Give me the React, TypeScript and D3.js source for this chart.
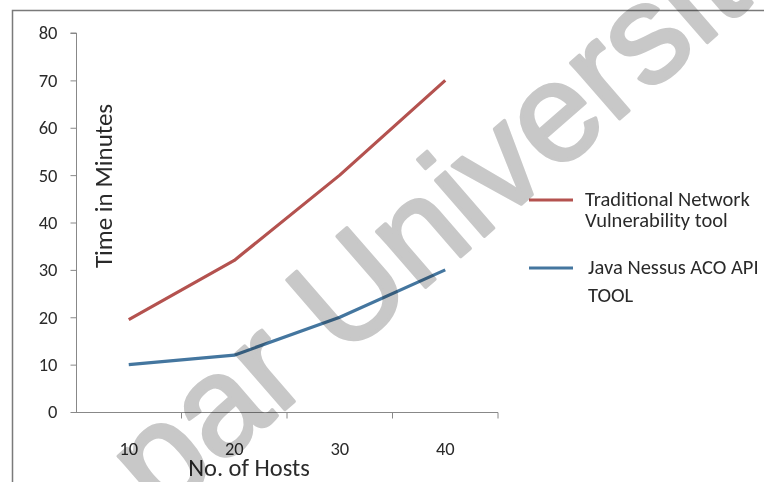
import { useRef, useEffect } from "react"
import * as d3 from "d3"

const hosts = ["10", "20", "30", "40"]
const traditional = [19.5, 32, 50, 70]
const javaNessus = [10, 12, 20, 30]
const yTicks = [0, 10, 20, 30, 40, 50, 60, 70, 80]

const seriesNames = [
  ["Traditional Network", "Vulnerability tool"],
  ["Java Nessus ACO API", "TOOL"],
]
const seriesColors = ["#b4524f", "#44769f"]

const font = "Carlito, Lato, 'Open Sans', sans-serif"
const textColor = "#2a2a2a"

const App = () => {
  const svgRef = useRef<SVGSVGElement>(null)

  useEffect(() => {
    const root = d3.select(svgRef.current)
    root.selectAll("*").remove()

    // frame
    root
      .append("rect")
      .attr("x", 12.5)
      .attr("y", 10.5)
      .attr("width", 800)
      .attr("height", 600)
      .attr("fill", "white")
      .attr("stroke", "#7a7a7a")
      .attr("stroke-width", 1.5)

    const x = d3.scaleBand().domain(hosts).range([76, 498])
    const y = d3.scaleLinear().domain([0, 80]).range([412, 33])

    // y axis
    const yAxis = root
      .append("g")
      .attr("transform", "translate(76.5,0)")
      .call(d3.axisLeft(y).tickValues(yTicks).tickSize(6).tickPadding(13))
    yAxis.select(".domain").attr("stroke", "#888").attr("d", `M-6,${y(80)}H0V${y(0)}`)
    yAxis.selectAll(".tick line").attr("stroke", "#888")
    yAxis
      .selectAll("text")
      .attr("fill", textColor)
      .style("font-family", font)
      .style("font-size", "18.5px")

    // x axis
    const xAxis = root
      .append("g")
      .attr("transform", "translate(0,412.5)")
      .call(d3.axisBottom(x).tickSize(0).tickPadding(29))
    xAxis.select(".domain").attr("stroke", "#888").attr("d", `M${x.range()[0]},0H${x.range()[1]}`)
    xAxis
      .selectAll("text")
      .attr("fill", textColor)
      .style("font-family", font)
      .style("font-size", "18.5px")
    // tick marks between categories
    xAxis
      .selectAll(".sep")
      .data(hosts)
      .enter()
      .append("line")
      .attr("x1", (d) => (x(d) ?? 0) + x.bandwidth())
      .attr("x2", (d) => (x(d) ?? 0) + x.bandwidth())
      .attr("y1", 0)
      .attr("y2", 6)
      .attr("stroke", "#888")

    // titles
    root
      .append("text")
      .attr("transform", "translate(112,186) rotate(-90)")
      .attr("text-anchor", "middle")
      .attr("fill", textColor)
      .style("font-family", font)
      .style("font-size", "25px")
      .text("Time in Minutes")
    root
      .append("text")
      .attr("x", 249)
      .attr("y", 476)
      .attr("text-anchor", "middle")
      .attr("fill", textColor)
      .style("font-family", font)
      .style("font-size", "24.5px")
      .text("No. of Hosts")

    // lines
    const line = d3
      .line<number>()
      .x((_, i) => (x(hosts[i]) ?? 0) + x.bandwidth() / 2)
      .y((d) => y(d))
    ;[traditional, javaNessus].forEach((s, i) => {
      root
        .append("path")
        .datum(s)
        .attr("d", line)
        .attr("fill", "none")
        .attr("stroke", seriesColors[i])
        .attr("stroke-width", 3.2)
        .attr("stroke-linejoin", "round")
    })

    // legend
    const legendY = [200, 268]
    const legendGap = [21, 28]
    seriesNames.forEach((names, i) => {
      const g = root.append("g").attr("transform", `translate(0,${legendY[i]})`)
      g.append("line")
        .attr("x1", 529)
        .attr("x2", 573)
        .attr("y1", 0)
        .attr("y2", 0)
        .attr("stroke", seriesColors[i])
        .attr("stroke-width", 3)
      names.forEach((t, j) => {
        g.append("text")
          .attr("x", i === 0 ? 585 : 588)
          .attr("y", 6 + j * legendGap[i])
          .attr("fill", textColor)
          .style("font-family", font)
          .style("font-size", "20.5px")
          .text(t)
      })
    })

    // watermark
    root
      .append("text")
      .attr("transform", "translate(160,518) rotate(-41)")
      .attr("fill", "#c8c8c8")
      .attr("stroke", "#c8c8c8")
      .attr("stroke-width", 3.5)
      .attr("stroke-linejoin", "round")
      .style("mix-blend-mode", "multiply")
      .style("font-family", "'Liberation Sans', Arial, sans-serif")
      .style("font-size", "140px")
      .text("par University")
  }, [])

  return (
    <svg
      ref={svgRef}
      width={764}
      height={482}
      style={{ position: "absolute", left: 0, top: 0, background: "white" }}
    ></svg>
  )
}

export default App
